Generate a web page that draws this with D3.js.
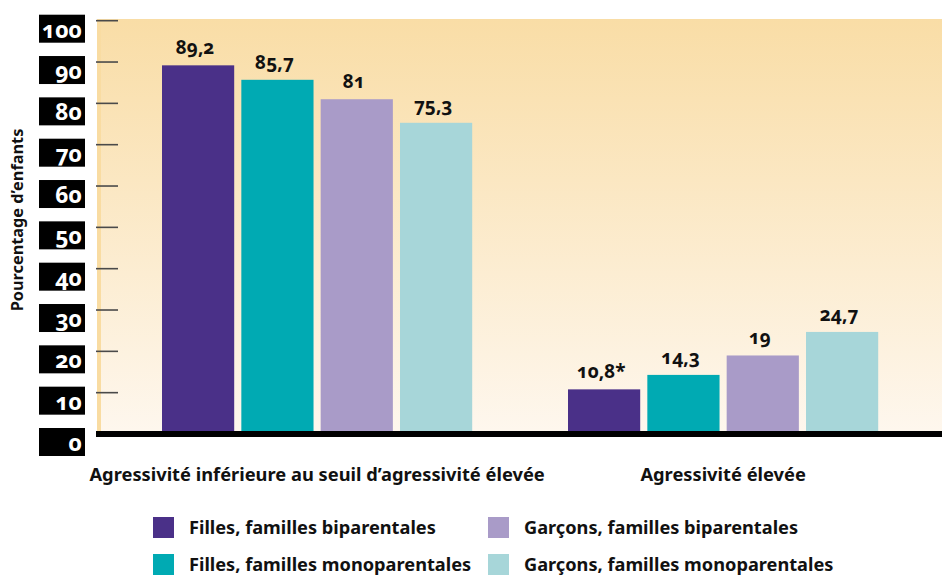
<!DOCTYPE html>
<html>
<head>
<meta charset="utf-8">
<script src="https://cdn.jsdelivr.net/npm/d3@7"></script>
<style>
  body { margin: 0; background: #fff; }
  text { font-family: "Noto Sans", "Open Sans", sans-serif; font-weight: 700; font-variant-numeric: oldstyle-nums; }
</style>
</head>
<body>
<script>
// data
var categories = ["Agressivité inférieure au seuil d’agressivité élevée", "Agressivité élevée"];
var series = ["Filles, familles biparentales", "Filles, familles monoparentales",
              "Garçons, familles biparentales", "Garçons, familles monoparentales"];
var filles_bi = [89.2, 10.8];
var filles_mono = [85.7, 14.3];
var garcons_bi = [81, 19];
var garcons_mono = [75.3, 24.7];
var valueLabels = [["89,2", "10,8*"], ["85,7", "14,3"], ["81", "19"], ["75,3", "24,7"]];
var yTicks = [0, 10, 20, 30, 40, 50, 60, 70, 80, 90, 100];
var colors = ["#4a3088", "#00aab3", "#a99bc8", "#a7d6d9"];

var width = 942, height = 575;

var svg = d3.select("body").append("svg")
    .attr("width", width)
    .attr("height", height);

var y = d3.scaleLinear().domain([0, 100]).range([434, 20.7]);

var x0 = d3.scaleBand()
    .domain(categories)
    .range([121.4, 918.8])
    .paddingInner(0.236)
    .paddingOuter(0.1);

var x1 = d3.scaleBand()
    .domain(series)
    .range([0, x0.bandwidth()])
    .paddingInner(0.09);

// background gradient
var defs = svg.append("defs");
var grad = defs.append("linearGradient")
    .attr("id", "bg").attr("x1", 0).attr("y1", 0).attr("x2", 0).attr("y2", 1);
grad.append("stop").attr("offset", "0%").attr("stop-color", "#f9dda6");
grad.append("stop").attr("offset", "100%").attr("stop-color", "#fef7ee");

svg.append("rect")
    .attr("x", 97).attr("y", 19)
    .attr("width", width - 97).attr("height", y(0) - 19)
    .attr("fill", "url(#bg)");
svg.append("rect")
    .attr("x", 97).attr("y", 19)
    .attr("width", 4).attr("height", y(0) - 19)
    .attr("fill", "#f9dca2");

// y ticks
svg.append("g").selectAll("line")
    .data(yTicks.filter(function(d) { return d > 0; }))
    .enter().append("line")
      .attr("x1", 96).attr("x2", 118)
      .attr("y1", function(d) { return y(d); })
      .attr("y2", function(d) { return y(d); })
      .attr("stroke", "#4a4a4a")
      .attr("stroke-width", 1.6);

// tick label boxes
var tickLab = svg.append("g").selectAll("g")
    .data(yTicks)
    .enter().append("g")
      .attr("transform", function(d) { return "translate(0," + (y(d) + 8) + ")"; });
tickLab.append("rect")
    .attr("x", 39).attr("y", -14)
    .attr("width", 46).attr("height", 28)
    .attr("fill", "#000");
tickLab.append("text")
    .attr("x", 82).attr("y", 9)
    .attr("text-anchor", "end")
    .attr("fill", "#fff")
    .style("font-size", "23px")
    .text(function(d) { return d; });

// bars
var table = [filles_bi, filles_mono, garcons_bi, garcons_mono];
var rows = [];
categories.forEach(function(c, i) {
  series.forEach(function(s, j) {
    rows.push({cat: c, ser: s, value: table[j][i], label: valueLabels[j][i], color: colors[j]});
  });
});

svg.append("g").selectAll("rect")
    .data(rows)
    .enter().append("rect")
      .attr("x", function(d) { return x0(d.cat) + x1(d.ser); })
      .attr("y", function(d) { return y(d.value); })
      .attr("width", x1.bandwidth())
      .attr("height", function(d) { return y(0) - y(d.value); })
      .attr("fill", function(d) { return d.color; });

svg.append("g").selectAll("text")
    .data(rows)
    .enter().append("text")
      .attr("x", function(d) { return x0(d.cat) + x1(d.ser) + x1.bandwidth() / 2 - 3; })
      .attr("y", function(d) { return y(d.value) - 11; })
      .attr("text-anchor", "middle")
      .attr("fill", "#111")
      .style("font-size", "19px")
      .text(function(d) { return d.label; });

// baseline
svg.append("line")
    .attr("x1", 96).attr("x2", width)
    .attr("y1", y(0)).attr("y2", y(0))
    .attr("stroke", "#000")
    .attr("stroke-width", 6);

// category labels
svg.append("g").selectAll("text")
    .data(categories)
    .enter().append("text")
      .attr("x", function(d) { return x0(d) + x0.bandwidth() / 2; })
      .attr("y", 481)
      .attr("text-anchor", "middle")
      .attr("fill", "#111")
      .style("font-size", "18.3px")
      .text(function(d) { return d; });

// y title
svg.append("text")
    .attr("transform", "translate(23,220)rotate(-90)")
    .attr("text-anchor", "middle")
    .attr("fill", "#111")
    .style("font-size", "16.3px")
    .text("Pourcentage d’enfants");

// legend
var legend = svg.append("g").selectAll("g")
    .data(series)
    .enter().append("g")
      .attr("transform", function(d, i) {
        return "translate(" + (i < 2 ? 153 : 488) + "," + (i % 2 === 0 ? 517 : 554) + ")";
      });
legend.append("rect")
    .attr("width", 21).attr("height", 21)
    .attr("fill", function(d, i) { return colors[i]; });
legend.append("text")
    .attr("x", 36).attr("y", 17)
    .attr("fill", "#111")
    .style("font-size", "18.2px")
    .text(function(d) { return d; });
</script>
</body>
</html>
